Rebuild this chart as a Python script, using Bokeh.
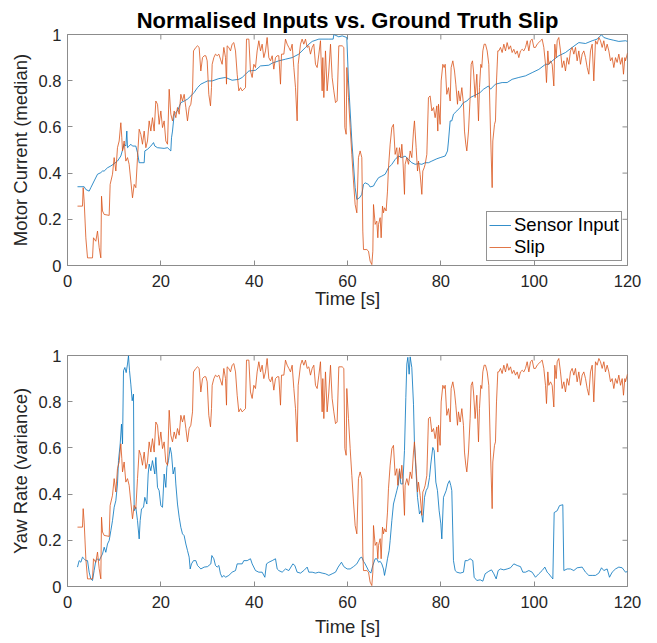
from bokeh.plotting import figure
from bokeh.models import Range1d, FixedTicker, Legend
from bokeh.layouts import column
from bokeh.embed import file_html
from bokeh.resources import INLINE
import math

# ---------------- data ----------------
x_ticks = [0, 20, 40, 60, 80, 100, 120]
x_tick_labels = ["0", "20", "40", "60", "80", "100", "120"]
y_ticks = [0, 0.2, 0.4, 0.6, 0.8, 1.0]
y_tick_labels = ["0", "0.2", "0.4", "0.6", "0.8", "1"]

title_text = "Normalised Inputs vs. Ground Truth Slip"
x_label = "Time [s]"
y_label_top = "Motor Current (median)"
y_label_bottom = "Yaw Rate (variance)"
series_names = ["Sensor Input", "Slip"]

slip_t = [2.14, 3.21, 3.36, 3.57, 3.93, 4.29, 5.36, 5.57, 6.07, 6.43, 6.79, 7.14, 7.29, 7.5, 7.86, 8.93,
          9.14, 9.64, 10.0, 10.36, 10.71, 11.07, 11.43, 11.64, 11.79, 12.14, 12.5, 12.86, 13.21, 13.57,
          13.93, 14.29, 14.64, 15.0, 15.36, 15.71, 16.07, 16.43, 16.79, 17.14, 17.5, 17.86, 18.21, 18.57,
          18.93, 19.29, 19.64, 20.0, 20.36, 20.71, 21.07, 21.43, 21.79, 22.14, 22.5, 22.86, 23.21, 23.57,
          23.93, 24.29, 24.64, 25.0, 25.36, 25.71, 26.07, 26.43, 26.79, 27.0, 27.5, 27.86, 28.21, 28.57,
          28.93, 29.29, 29.64, 29.93, 30.28, 30.64, 30.86, 31.0, 31.36, 31.71, 32.07, 32.43, 32.78, 33.14,
          33.5, 33.86, 34.07, 34.21, 34.57, 34.93, 35.28, 35.64, 36.0, 36.36, 36.71, 37.07, 37.43, 37.78,
          38.14, 38.36, 38.86, 39.21, 39.57, 39.93, 40.28, 40.64, 41.0, 41.36, 41.71, 42.07, 42.43, 42.78,
          43.14, 43.5, 43.86, 44.21, 44.57, 44.93, 45.28, 45.64, 45.86, 46.36, 46.71, 47.07, 47.43, 47.78,
          48.14, 48.5, 48.86, 49.21, 49.43, 49.93, 50.28, 50.64, 51.0, 51.36, 51.71, 52.07, 52.43, 52.78,
          53.14, 53.5, 53.86, 54.21, 54.43, 54.57, 54.71, 54.93, 55.28, 55.64, 56.0, 56.36, 56.71, 57.07,
          57.43, 57.78, 58.14, 58.86, 59.21, 59.43, 59.71, 59.85, 60.21, 60.57, 60.93, 61.28, 61.64, 62.0,
          62.35, 62.71, 63.07, 63.28, 63.43, 64.14, 64.5, 64.85, 65.21, 65.43, 65.57, 65.93, 66.28, 66.5,
          66.64, 67.0, 67.21, 67.5, 67.71, 67.93, 68.28, 68.57, 68.78, 69.14, 69.5, 69.85, 70.21, 70.57,
          70.78, 71.14, 71.43, 71.64, 71.85, 72.21, 72.35, 72.71, 73.07, 73.43, 73.78, 74.14, 74.35, 74.71,
          75.0, 75.21, 75.57, 75.93, 76.14, 76.43, 76.64, 77.0, 77.35, 77.71, 78.07, 78.43, 78.78, 79.14,
          79.35, 79.5, 79.85, 80.07, 80.43, 80.71, 80.93, 81.28, 81.64, 82.0, 82.21, 82.57, 82.93, 83.21,
          83.57, 83.78, 84.14, 84.5, 84.85, 85.07, 85.35, 85.57, 85.93, 86.28, 86.5, 86.78, 87.0, 87.35,
          87.71, 88.07, 88.28, 88.57, 88.78, 89.0, 89.28, 89.57, 89.93, 90.28, 90.64, 91.0, 91.14, 91.5,
          91.71, 91.93, 92.21, 92.43, 92.78, 93.14, 93.5, 93.86, 94.21, 94.57, 94.93, 95.28, 95.64, 96.0,
          96.36, 96.71, 97.07, 97.43, 97.78, 98.14, 98.5, 98.86, 99.21, 99.57, 99.93, 100.28, 100.64, 101.0,
          101.36, 101.71, 102.07, 102.43, 102.64, 102.93, 103.14, 103.5, 103.86, 104.21, 104.43, 104.71,
          104.93, 105.28, 105.64, 106.0, 106.36, 106.71, 107.07, 107.43, 107.78, 108.14, 108.5, 108.86,
          109.21, 109.57, 109.93, 110.28, 110.64, 111.0, 111.36, 111.71, 112.07, 112.43, 112.78, 113.14,
          113.5, 113.86, 114.21, 114.57, 114.93, 115.28, 115.64, 116.0, 116.36, 116.71, 117.07, 117.43,
          117.78, 118.14, 118.5, 118.86, 119.14, 119.43, 119.57, 120.0]
slip_v = [0.257, 0.257, 0.337, 0.279, 0.12, 0.033, 0.033, 0.12, 0.105, 0.149, 0.077, 0.033, 0.30, 0.236, 0.221, 0.217,
          0.351, 0.395, 0.467, 0.409, 0.51, 0.539, 0.618, 0.553, 0.496, 0.539, 0.452, 0.467, 0.438, 0.366,
          0.293, 0.351, 0.337, 0.467, 0.59, 0.568, 0.525, 0.582, 0.51, 0.539, 0.626, 0.582, 0.64, 0.582,
          0.712, 0.698, 0.611, 0.669, 0.597, 0.626, 0.539, 0.525, 0.763, 0.655, 0.626, 0.669, 0.64, 0.684,
          0.655, 0.741, 0.712, 0.741, 0.684, 0.626, 0.684, 0.698, 0.756, 0.929, 0.944, 0.951, 0.944, 0.842,
          0.9, 0.908, 0.908, 0.886, 0.741, 0.691, 0.77, 0.871, 0.9, 0.915, 0.908, 0.915, 0.893, 0.871,
          0.944, 0.9, 0.785, 0.951, 0.944, 0.929, 0.958, 0.965, 0.929, 0.828, 0.756, 0.77, 0.756, 0.763,
          0.77, 0.98, 0.98, 0.842, 0.814, 0.871, 0.857, 0.929, 0.973, 0.929, 0.958, 0.9, 0.929, 0.987,
          0.9, 0.886, 0.908, 0.85, 0.9, 0.908, 0.908, 0.785, 0.915, 0.915, 0.98, 0.958, 0.944, 0.929,
          0.958, 0.857, 0.77, 0.626, 0.871, 0.958, 0.98, 0.958, 0.98, 0.944, 0.951, 0.915, 0.944, 0.958,
          0.871, 0.857, 0.915, 0.973, 0.842, 0.756, 0.9, 0.727, 0.929, 0.756, 0.842, 0.958, 0.814, 0.756,
          0.705, 0.712, 0.951, 0.951, 0.944, 0.597, 0.568, 0.857, 0.727, 0.597, 0.481, 0.366, 0.264, 0.228,
          0.467, 0.496, 0.467, 0.149, 0.069, 0.069, 0.062, 0.019, 0.004, 0.062, 0.264, 0.178, 0.192, 0.12,
          0.178, 0.207, 0.12, 0.257, 0.228, 0.25, 0.236, 0.322, 0.423, 0.525, 0.597, 0.611, 0.481, 0.51,
          0.438, 0.51, 0.467, 0.525, 0.467, 0.308, 0.438, 0.467, 0.438, 0.496, 0.467, 0.582, 0.626, 0.51,
          0.409, 0.452, 0.394, 0.308, 0.409, 0.423, 0.438, 0.481, 0.727, 0.734, 0.669, 0.684, 0.64, 0.691,
          0.582, 0.698, 0.611, 0.799, 0.871, 0.857, 0.871, 0.741, 0.77, 0.712, 0.857, 0.886, 0.842, 0.785,
          0.698, 0.756, 0.712, 0.77, 0.698, 0.582, 0.525, 0.496, 0.582, 0.727, 0.871, 0.886, 0.842, 0.727,
          0.828, 0.626, 0.77, 0.871, 0.857, 0.929, 0.958, 0.958, 0.929, 0.871, 0.582, 0.337, 0.539, 0.611,
          0.626, 0.799, 0.929, 0.929, 0.944, 0.922, 0.958, 0.929, 0.965, 0.936, 0.951, 0.922, 0.936, 0.915,
          0.929, 0.9, 0.929, 0.936, 0.929, 0.944, 0.973, 0.929, 0.973, 0.98, 0.944, 0.944, 0.958, 0.965,
          0.973, 0.98, 0.944, 0.871, 0.792, 0.929, 0.871, 0.886, 0.871, 0.777, 0.958, 0.9,
          0.973, 0.987, 0.929, 0.857, 0.886, 0.842, 0.9, 0.871, 0.929, 0.944, 0.915, 0.944,
          0.886, 0.929, 0.871, 0.915, 0.929, 0.9, 0.857, 0.828, 0.929, 0.958, 0.799, 0.973,
          0.958, 0.987, 0.973, 0.944, 0.973, 0.929, 0.958, 0.929, 0.886, 0.9, 0.857, 0.9,
          0.879, 0.915, 0.871, 0.9, 0.828, 0.9, 0.886, 0.92]

motor_t = [2.14, 3.57, 3.93, 4.64, 5.0, 5.71, 6.43, 7.14, 7.5, 7.86, 8.57, 9.29, 10.0, 10.71, 11.43, 12.14,
           12.5, 12.71, 12.86, 13.21, 13.57, 13.93, 14.64, 15.0, 15.36, 16.43, 16.57, 17.14, 17.86, 18.43,
           18.71, 19.29, 20.71, 21.43, 21.79, 22.14, 22.29, 22.5, 22.86, 23.57, 24.29, 25.0, 25.71, 26.43,
           27.14, 27.86, 28.57, 29.29, 30.0, 31.0, 32.43, 33.86, 35.28, 36.71, 37.43, 38.14, 38.86, 40.28,
           41.36, 43.14, 43.86, 45.28, 46.71, 48.14, 49.57, 51.0, 51.71, 52.43, 53.86, 56.0, 56.93, 57.07,
           58.14, 58.86, 59.85, 60.21, 60.93, 61.64, 62.0, 62.57, 63.07, 63.43, 63.78, 64.5, 64.85, 65.57,
           65.93, 66.64, 67.35, 68.07, 68.78, 69.5, 70.21, 70.93, 71.64, 72.35, 73.07, 73.78, 74.5, 75.21,
           75.93, 76.64, 77.35, 78.07, 79.14, 79.85, 80.93, 81.43, 81.64, 82.0, 82.35, 82.71, 83.43, 84.14,
           84.85, 85.57, 86.28, 87.0, 87.71, 88.43, 89.14, 90.21, 90.64, 91.71, 93.14, 94.21, 95.28, 96.71,
           98.14, 99.57, 101.0, 102.43, 103.14, 103.86, 105.28, 106.71, 108.14, 109.57, 111.0, 112.43, 113.5,
           114.43, 114.93, 116.0, 117.07, 118.14, 119.57, 120.0]
motor_v = [0.341, 0.341, 0.329, 0.322, 0.337, 0.366, 0.395, 0.402, 0.409, 0.409, 0.423, 0.431, 0.441, 0.452, 0.474, 0.525,
           0.517, 0.582, 0.51, 0.517, 0.525, 0.517, 0.517, 0.488, 0.445, 0.445, 0.496, 0.503, 0.517, 0.532,
           0.517, 0.51, 0.507, 0.51, 0.503, 0.496, 0.553, 0.582, 0.655, 0.669, 0.705, 0.712, 0.72, 0.734,
           0.749, 0.77, 0.785, 0.792, 0.799, 0.799, 0.809, 0.814, 0.802, 0.806, 0.814, 0.828, 0.842, 0.845,
           0.864, 0.867, 0.876, 0.886, 0.893, 0.9, 0.915, 0.944, 0.958, 0.97, 0.98, 0.98, 0.98, 1.0,
           0.99, 0.994, 0.987, 0.799, 0.539, 0.337, 0.286, 0.293, 0.308, 0.351, 0.358, 0.351, 0.34, 0.344,
           0.358, 0.38, 0.387, 0.395, 0.423, 0.438, 0.459, 0.474, 0.467, 0.474, 0.459, 0.445, 0.438, 0.441,
           0.438, 0.445, 0.445, 0.452, 0.462, 0.467, 0.474, 0.496, 0.539, 0.626, 0.626, 0.655, 0.669, 0.684,
           0.705, 0.712, 0.727, 0.734, 0.741, 0.749, 0.763, 0.777, 0.763, 0.785, 0.792, 0.792, 0.806, 0.814,
           0.821, 0.835, 0.849, 0.871, 0.871, 0.886, 0.908, 0.922, 0.944, 0.965, 0.961, 0.973, 0.98,
           0.999, 0.987, 0.98, 0.975, 0.97, 0.973, 0.97]

yaw_t = [2.14, 2.5, 2.86, 3.21, 3.57, 3.93, 4.29, 4.64, 5.0, 5.36, 5.71, 6.07, 6.43, 6.79, 7.14, 7.5, 7.86,
         8.21, 8.57, 8.93, 9.29, 9.64, 10.0, 10.36, 10.71, 10.93, 11.29, 11.57, 11.79, 12.0, 12.29, 12.57,
         12.86, 13.07, 13.29, 13.57, 13.86, 14.14, 14.29, 14.64, 15.0, 15.36, 15.57, 15.86, 16.29, 16.57,
         17.0, 17.29, 17.5, 17.86, 18.21, 18.71, 18.93, 19.29, 19.64, 20.0, 20.36, 20.71, 21.07, 21.29,
         21.64, 22.0, 22.29, 22.64, 23.0, 23.21, 23.57, 23.93, 24.29, 24.64, 25.0, 25.36, 25.71, 26.07,
         26.29, 26.57, 27.0, 27.5, 27.86, 28.21, 28.57, 29.29, 30.0, 30.71, 30.93, 31.36, 31.71, 32.07,
         32.43, 32.78, 33.14, 33.5, 33.86, 34.57, 35.28, 36.0, 36.36, 37.43, 37.78, 38.5, 39.21, 39.57,
         40.28, 41.0, 41.71, 42.29, 42.64, 43.14, 43.86, 44.57, 44.93, 45.28, 46.0, 46.71, 47.43, 48.29,
         48.71, 49.21, 49.93, 50.64, 51.36, 51.71, 52.43, 53.14, 53.86, 54.57, 55.28, 56.0, 56.71, 57.43,
         58.0, 58.71, 59.21, 59.93, 60.57, 61.28, 62.0, 62.71, 63.07, 63.43, 63.78, 64.5, 65.0, 65.43,
         65.93, 66.28, 66.64, 67.0, 67.35, 67.71, 67.93, 68.28, 68.57, 68.93, 69.14, 69.5, 69.85, 70.21,
         70.57, 70.93, 71.14, 71.43, 71.85, 72.21, 72.5, 72.71, 72.93, 73.21, 73.43, 73.78, 74.14, 74.35,
         74.71, 75.0, 75.43, 75.78, 76.14, 76.5, 76.85, 77.21, 77.57, 77.85, 78.28, 78.57, 78.93, 79.28,
         79.64, 80.0, 80.21, 80.57, 81.14, 81.5, 81.85, 82.14, 82.35, 82.71, 83.07, 83.43, 84.14, 84.85,
         85.21, 85.71, 86.28, 86.85, 87.14, 87.71, 88.43, 89.0, 89.5, 90.28, 90.86, 91.36, 91.86, 92.29,
         92.78, 93.5, 94.21, 94.93, 95.64, 96.36, 97.07, 97.57, 98.14, 98.86, 99.57, 100.28, 101.0, 101.71,
         102.29, 102.79, 103.14, 103.71, 104.0, 104.29, 104.93, 105.43, 106.14, 106.36, 107.07, 107.79,
         108.5, 109.21, 110.29, 111.0, 111.71, 112.43, 113.14, 113.86, 114.43, 114.93, 115.64, 116.14,
         116.71, 117.43, 118.14, 118.86, 119.57, 120.0]
yaw_v = [0.084, 0.112, 0.105, 0.127, 0.12, 0.112, 0.112, 0.062, 0.033, 0.026, 0.069, 0.112, 0.12, 0.112, 0.127, 0.141, 0.17,
         0.148, 0.184, 0.199, 0.242, 0.285, 0.343, 0.372, 0.444, 0.545, 0.617, 0.703, 0.617, 0.934, 0.948, 0.926,
         0.963, 0.999, 0.934, 0.876, 0.804, 0.833, 0.328, 0.343, 0.285, 0.206, 0.285, 0.336, 0.343, 0.386,
         0.357, 0.487, 0.53, 0.501, 0.545, 0.487, 0.559, 0.429, 0.415, 0.35, 0.343, 0.487, 0.429, 0.516,
         0.545, 0.602, 0.573, 0.487, 0.516, 0.444, 0.357, 0.3, 0.256, 0.228, 0.22, 0.184, 0.156, 0.127,
         0.076, 0.098, 0.112, 0.112, 0.091, 0.084, 0.076, 0.084, 0.086, 0.098, 0.134, 0.12, 0.091, 0.084,
         0.091, 0.055, 0.04, 0.048, 0.04, 0.048, 0.062, 0.069, 0.098, 0.098, 0.112, 0.112, 0.12, 0.098,
         0.069, 0.062, 0.062, 0.04, 0.098, 0.105, 0.112, 0.12, 0.076, 0.069, 0.062, 0.076, 0.069, 0.098,
         0.091, 0.062, 0.058, 0.069, 0.084, 0.062, 0.062, 0.058, 0.062, 0.058, 0.055, 0.048, 0.055, 0.062,
         0.084, 0.105, 0.086, 0.076, 0.076, 0.086, 0.098, 0.124, 0.127, 0.109, 0.098, 0.069, 0.058, 0.091,
         0.12, 0.12, 0.105, 0.109, 0.098, 0.076, 0.048, 0.084, 0.12, 0.156, 0.199, 0.285, 0.357, 0.386,
         0.415, 0.444, 0.501, 0.444, 0.444, 0.588, 0.818, 0.963, 0.992, 0.919, 0.994, 0.948, 0.789, 0.617,
         0.487, 0.386, 0.314, 0.328, 0.278, 0.386, 0.415, 0.429, 0.472, 0.53, 0.602, 0.588, 0.452, 0.415,
         0.328, 0.271, 0.206, 0.386, 0.415, 0.444, 0.458, 0.437, 0.415, 0.112, 0.069, 0.062, 0.058, 0.062,
         0.112, 0.112, 0.12, 0.112, 0.04, 0.026, 0.029, 0.023, 0.055, 0.066, 0.072, 0.055, 0.033, 0.069,
         0.076, 0.072, 0.076, 0.081, 0.098, 0.091, 0.086, 0.062, 0.062, 0.069, 0.062, 0.04, 0.055, 0.069,
         0.084, 0.062, 0.055, 0.04, 0.033, 0.32, 0.328, 0.35, 0.354, 0.069, 0.076, 0.076,
         0.069, 0.081, 0.084, 0.062, 0.048, 0.048, 0.048, 0.058, 0.081, 0.069, 0.076, 0.04,
         0.062, 0.076, 0.084, 0.081, 0.062, 0.065]

# ---------------- style ----------------
FONT = "Liberation Sans"
TXT = "#262626"
BOX = "#8c8c8c"
BLUE = "#0072BD"
ORANGE = "#D95319"
TICK_FS = "16.5px"
LABEL_FS = "18.5px"
LW = 0.8


def style_axis(ax, ticks, labels):
    ax.ticker = FixedTicker(ticks=ticks)
    ax.major_label_overrides = {float(t): l for t, l in zip(ticks, labels)}
    ax.major_tick_in = 5
    ax.major_tick_out = 0
    ax.minor_tick_in = 0
    ax.minor_tick_out = 0
    ax.axis_line_color = BOX
    ax.major_tick_line_color = BOX
    ax.major_label_text_font = FONT
    ax.major_label_text_color = TXT
    ax.major_label_text_font_size = TICK_FS
    ax.axis_label_text_font = FONT
    ax.axis_label_text_font_style = "normal"
    ax.axis_label_text_color = TXT
    ax.axis_label_text_font_size = LABEL_FS


def make_fig(height, top, bottom, ylabel, xlabel_standoff):
    p = figure(width=657, height=height, x_range=Range1d(0, 120), y_range=Range1d(0, 1),
               output_backend="svg", toolbar_location=None,
               min_border_left=67, min_border_right=30, min_border_top=top, min_border_bottom=bottom)
    p.xgrid.visible = False
    p.ygrid.visible = False
    p.outline_line_color = BOX
    p.background_fill_color = "white"
    p.border_fill_color = "white"
    style_axis(p.xaxis[0], x_ticks, x_tick_labels)
    style_axis(p.yaxis[0], y_ticks, y_tick_labels)
    p.xaxis[0].axis_label = x_label
    p.yaxis[0].axis_label = ylabel
    p.xaxis[0].major_label_standoff = 9
    p.xaxis[0].axis_label_standoff = xlabel_standoff
    p.yaxis[0].major_label_standoff = 6
    p.yaxis[0].axis_label_standoff = 5
    # inward tick marks on the top and right edges of the box (clipped to the frame)
    p.scatter(x=x_ticks, y=[1.0] * len(x_ticks), marker="dash", size=10, angle=math.pi / 2,
              line_color=BOX, line_width=1)
    p.scatter(x=[120.0] * len(y_ticks), y=y_ticks, marker="dash", size=10,
              line_color=BOX, line_width=1)
    return p


p1 = make_fig(320, 34, 55, y_label_top, -2)
p1.title.text = title_text
p1.title.align = "center"
p1.title.text_font = FONT
p1.title.text_font_size = "22px"
p1.title.text_font_style = "bold"
p1.title.text_color = "black"
p1.title.standoff = 4

r_motor = p1.line(motor_t, motor_v, line_color=BLUE, line_width=LW)
r_slip1 = p1.line(slip_t, slip_v, line_color=ORANGE, line_width=LW)

legend = Legend(items=[(series_names[0], [r_motor]), (series_names[1], [r_slip1])],
                location=(419, 4))
legend.border_line_color = TXT
legend.border_line_width = 1
legend.background_fill_color = "white"
legend.background_fill_alpha = 1
legend.label_text_font = FONT
legend.label_text_font_size = LABEL_FS
legend.label_text_color = "black"
legend.glyph_width = 22
legend.glyph_height = 20
legend.label_height = 20
legend.label_standoff = 3
legend.padding = 2
legend.spacing = 0
legend.margin = 0
p1.add_layout(legend)

p2 = make_fig(323, 35, 57, y_label_bottom, 5)
p2.line(yaw_t, yaw_v, line_color=BLUE, line_width=LW)
p2.line(slip_t, slip_v, line_color=ORANGE, line_width=LW)

layout = column(p1, p2)
open("out.html", "w").write(file_html(layout, INLINE))
